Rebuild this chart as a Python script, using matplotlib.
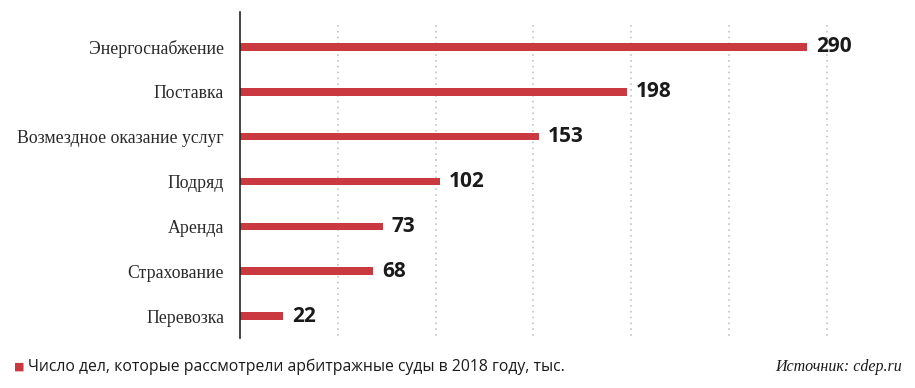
import matplotlib.pyplot as plt

# категории и значения
kategorii = ['Энергоснабжение', 'Поставка', 'Возмездное оказание услуг',
             'Подряд', 'Аренда', 'Страхование', 'Перевозка']
znacheniya = [290, 198, 153, 102, 73, 68, 22]
setka = [50, 100, 150, 200, 250, 300]

krasnyi = '#c9393f'

fig = plt.figure(figsize=(9.15, 3.88), dpi=100)
ax = fig.add_axes([240 / 915, 1 - 338 / 388, 665 / 915, 326 / 388])

pozicii = list(range(len(kategorii)))

# пунктирная сетка
ax.vlines(setka, -0.5, 6.5, colors='#c4c4c4', linestyles=(0, (1, 2.5)), linewidth=1.2, zorder=0)

ax.barh(pozicii, znacheniya, height=0.17, color=krasnyi, zorder=2)

# подписи значений
for p, v in zip(pozicii, znacheniya):
    ax.text(v + 4.5, p, str(v), va='center', ha='left', fontsize=15, fontweight='bold',
            family='Open Sans', color='#1a1a1a')

ax.set_yticks(pozicii)
ax.set_yticklabels(kategorii, family='Liberation Serif', fontsize=12.8, color='#2a2a2a')
ax.tick_params(axis='y', length=0, pad=11.5)
ax.set_xticks([])
ax.set_xlim(0, 340)
ax.set_ylim(6.49, -0.78)

for s in ['top', 'right', 'bottom']:
    ax.spines[s].set_visible(False)
ax.spines['left'].set_color('#222222')
ax.spines['left'].set_linewidth(1.2)

# подвал
fig.text(14 / 915, 1 - 367 / 388, '■', color=krasnyi, fontsize=8, va='center', family='DejaVu Sans')
fig.text(28 / 915, 1 - 367 / 388, 'Число дел, которые рассмотрели арбитражные суды в 2018 году, тыс.',
         fontsize=11.3, va='center', family='Open Sans', color='#1a1a1a')
fig.text(902 / 915, 1 - 367 / 388, 'Источник: cdep.ru', fontsize=11.5, va='center', ha='right',
         family='Liberation Serif', style='italic', color='#1a1a1a')

fig.savefig('out.png', dpi=100)
